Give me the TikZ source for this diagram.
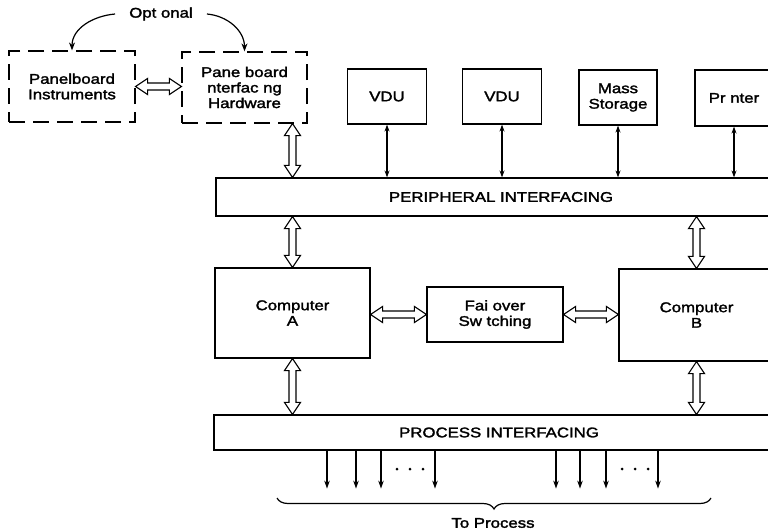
\documentclass[tikz,border=0pt]{standalone}
\usepackage{fontspec}
\setmainfont{Liberation Sans}[FakeStretch=1.2,FakeBold=2]
\usetikzlibrary{arrows.meta,decorations.pathreplacing,calc}
\tikzset{
  box/.style={draw,line width=1.2pt,inner sep=0pt,align=center},
  dbox/.style={box,dash pattern=on 16pt off 8pt},
  harr/.style={draw,line width=1.1pt,fill=white,line join=miter},
  thinarr/.style={line width=1.5pt,{Stealth[length=7pt,width=5pt]}-{Stealth[length=7pt,width=5pt]}},
  downarr/.style={line width=1.5pt,-{Stealth[length=8pt,width=5.5pt]}},
  curvarr/.style={line width=1.2pt,-{Stealth[length=8pt,width=6pt]}},
}
\newcommand\vharrow[2]{\path[harr] let \p1=(#1), \p2=(#2) in
  (\x1,\y1) -- (\x1+8pt,\y1-12pt) -- (\x1+3.5pt,\y1-12pt) -- (\x1+3.5pt,\y2+12pt)
  -- (\x1+8pt,\y2+12pt) -- (\x1,\y2) -- (\x1-8pt,\y2+12pt) -- (\x1-3.5pt,\y2+12pt)
  -- (\x1-3.5pt,\y1-12pt) -- (\x1-8pt,\y1-12pt) -- cycle;}
\newcommand\hharrow[2]{\path[harr] let \p1=(#1), \p2=(#2) in
  (\x1,\y1) -- (\x1+12pt,\y1+8pt) -- (\x1+12pt,\y1+3.5pt) -- (\x2-12pt,\y1+3.5pt)
  -- (\x2-12pt,\y1+8pt) -- (\x2,\y1) -- (\x2-12pt,\y1-8pt) -- (\x2-12pt,\y1-3.5pt)
  -- (\x1+12pt,\y1-3.5pt) -- (\x1+12pt,\y1-8pt) -- cycle;}
\begin{document}
\begin{tikzpicture}[x=1pt,y=-1pt,font=\fontsize{14}{15.5}\selectfont]
\clip (0,0) rectangle (768,530);
\fill[white] (0,0) rectangle (768,530);

% top-left dashed boxes
\node[dbox,minimum width=126pt,minimum height=71pt] (pbi) at (72,86.5) {Panelboard\\Instruments};
\node[dbox,minimum width=125pt,minimum height=71pt] (hw) at (244.5,87.5) {Pane board\\nterfac ng\\Hardware};
\node[inner xsep=14pt] (opt) at (161,14) {Opt onal};
\draw[curvarr] (opt.west) to[out=185,in=90] (pbi.north);
\draw[curvarr] (opt.east) to[out=-5,in=90] (hw.north);
\hharrow{pbi.east}{hw.west}

% peripherals
\node[box,minimum width=79pt,minimum height=55pt] (vdu1) at (387,96.5) {VDU};
\node[box,minimum width=79pt,minimum height=55pt] (vdu2) at (502,96.5) {VDU};
\node[box,minimum width=78pt,minimum height=55pt] (ms) at (618,97.5) {Mass\\Storage};
\node[box,minimum width=78pt,minimum height=56pt] (pr) at (734,98) {Pr nter};

\node[box,minimum width=570pt,minimum height=38pt] (per) at (501,197) {PERIPHERAL INTERFACING};

\foreach \n in {vdu1,vdu2,ms,pr}
  \draw[thinarr] (\n.south) -- (\n.south |- per.north);

% computers
\node[box,minimum width=155pt,minimum height=90pt] (ca) at (292.5,313) {Computer\\A};
\node[box,minimum width=136pt,minimum height=55pt] (fo) at (495,314.5) {Fai over\\Sw tching};
\node[box,minimum width=155pt,minimum height=92pt] (cb) at (696.5,315) {Computer\\B};

\node[box,minimum width=570pt,minimum height=35pt] (proc) at (499,432.5) {PROCESS INTERFACING};

\vharrow{hw.south -| ca.north}{per.north -| ca.north}
\vharrow{per.south -| ca.north}{ca.north}
\vharrow{per.south -| cb.north}{cb.north}
\vharrow{ca.south}{proc.north -| ca.south}
\vharrow{cb.south}{proc.north -| cb.south}
\hharrow{fo.west -| ca.east}{fo.west}
\hharrow{fo.east}{fo.east -| cb.west}

% outputs to process
\foreach \x in {327,356,381,435,556,580,606,658}
  \draw[downarr] (proc.south -| {\x},0) -- ++(0,38);
\foreach \x in {397,410,423,622,635,648}
  \fill (\x,469) circle (1.5pt);

\coordinate (bl) at (277,498);
\coordinate (br) at (711,498);
\draw[line width=1.2pt,decorate,decoration={brace,mirror,amplitude=11pt}] (bl) -- (br);
\node (tp) at (493,523) {To Process};
\end{tikzpicture}
\end{document}
